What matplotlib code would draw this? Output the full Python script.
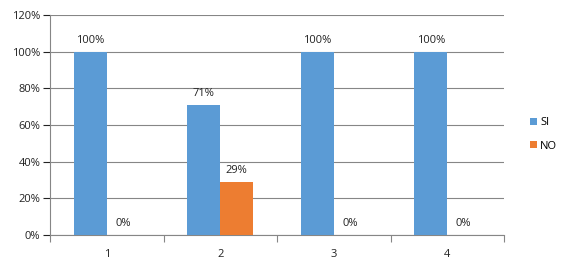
import numpy as np
import matplotlib.pyplot as plt
from matplotlib.ticker import FixedLocator, NullFormatter, PercentFormatter

categories = ['1', '2', '3', '4']
si_values = [100, 71, 100, 100]
no_values = [0, 29, 0, 0]
series_names = ['SI', 'NO']

blue = '#5B9BD5'
orange = '#ED7D31'
grid_col = '#868686'

plt.rcParams['font.family'] = ['Open Sans', 'DejaVu Sans']
plt.rcParams['font.size'] = 8

fig = plt.figure(figsize=(5.67, 2.69), dpi=100)
ax = fig.add_axes([50 / 567, 34 / 269, 454 / 567, 220 / 269])

x = np.arange(len(categories))
w = 0.29
b1 = ax.bar(x - w / 2, si_values, w, color=blue, label=series_names[0], zorder=3)
b2 = ax.bar(x + w / 2, no_values, w, color=orange, label=series_names[1], zorder=3)

for bars, vals in ((b1, si_values), (b2, no_values)):
    for rect, v in zip(bars, vals):
        ax.annotate(f'{v}%', (rect.get_x() + rect.get_width() / 2, v),
                    xytext=(0, 4), textcoords='offset points',
                    ha='center', va='bottom', fontsize=8, color='#222222')

ax.set_xlim(-0.5, len(categories) - 0.5)
ax.set_ylim(0, 120)
ax.set_yticks(np.arange(0, 121, 20))
ax.yaxis.set_major_formatter(PercentFormatter(decimals=0))
ax.grid(axis='y', color=grid_col, linewidth=0.8, zorder=0)

# category labels centred, tick marks on the boundaries
ax.set_xticks(x)
ax.set_xticklabels(categories)
ax.tick_params(axis='x', which='major', length=0, pad=10)
ax.xaxis.set_minor_locator(FixedLocator(np.arange(-0.5, len(categories), 1)))
ax.xaxis.set_minor_formatter(NullFormatter())
ax.tick_params(axis='x', which='minor', length=5, color=grid_col, width=0.8)
ax.tick_params(axis='y', length=5, color=grid_col, width=0.8, pad=2)
ax.tick_params(colors='#222222', which='major', labelsize=8)

for s in ('top', 'right'):
    ax.spines[s].set_visible(False)
for s in ('left', 'bottom'):
    ax.spines[s].set_color(grid_col)
    ax.spines[s].set_linewidth(0.8)

fig.legend(handles=[b1, b2], loc='center left', bbox_to_anchor=(520 / 567, 0.5),
           frameon=False, handlelength=0.6, handleheight=0.6, handletextpad=0.3,
           labelspacing=1.1, fontsize=8)

fig.savefig('out.png', dpi=100)
